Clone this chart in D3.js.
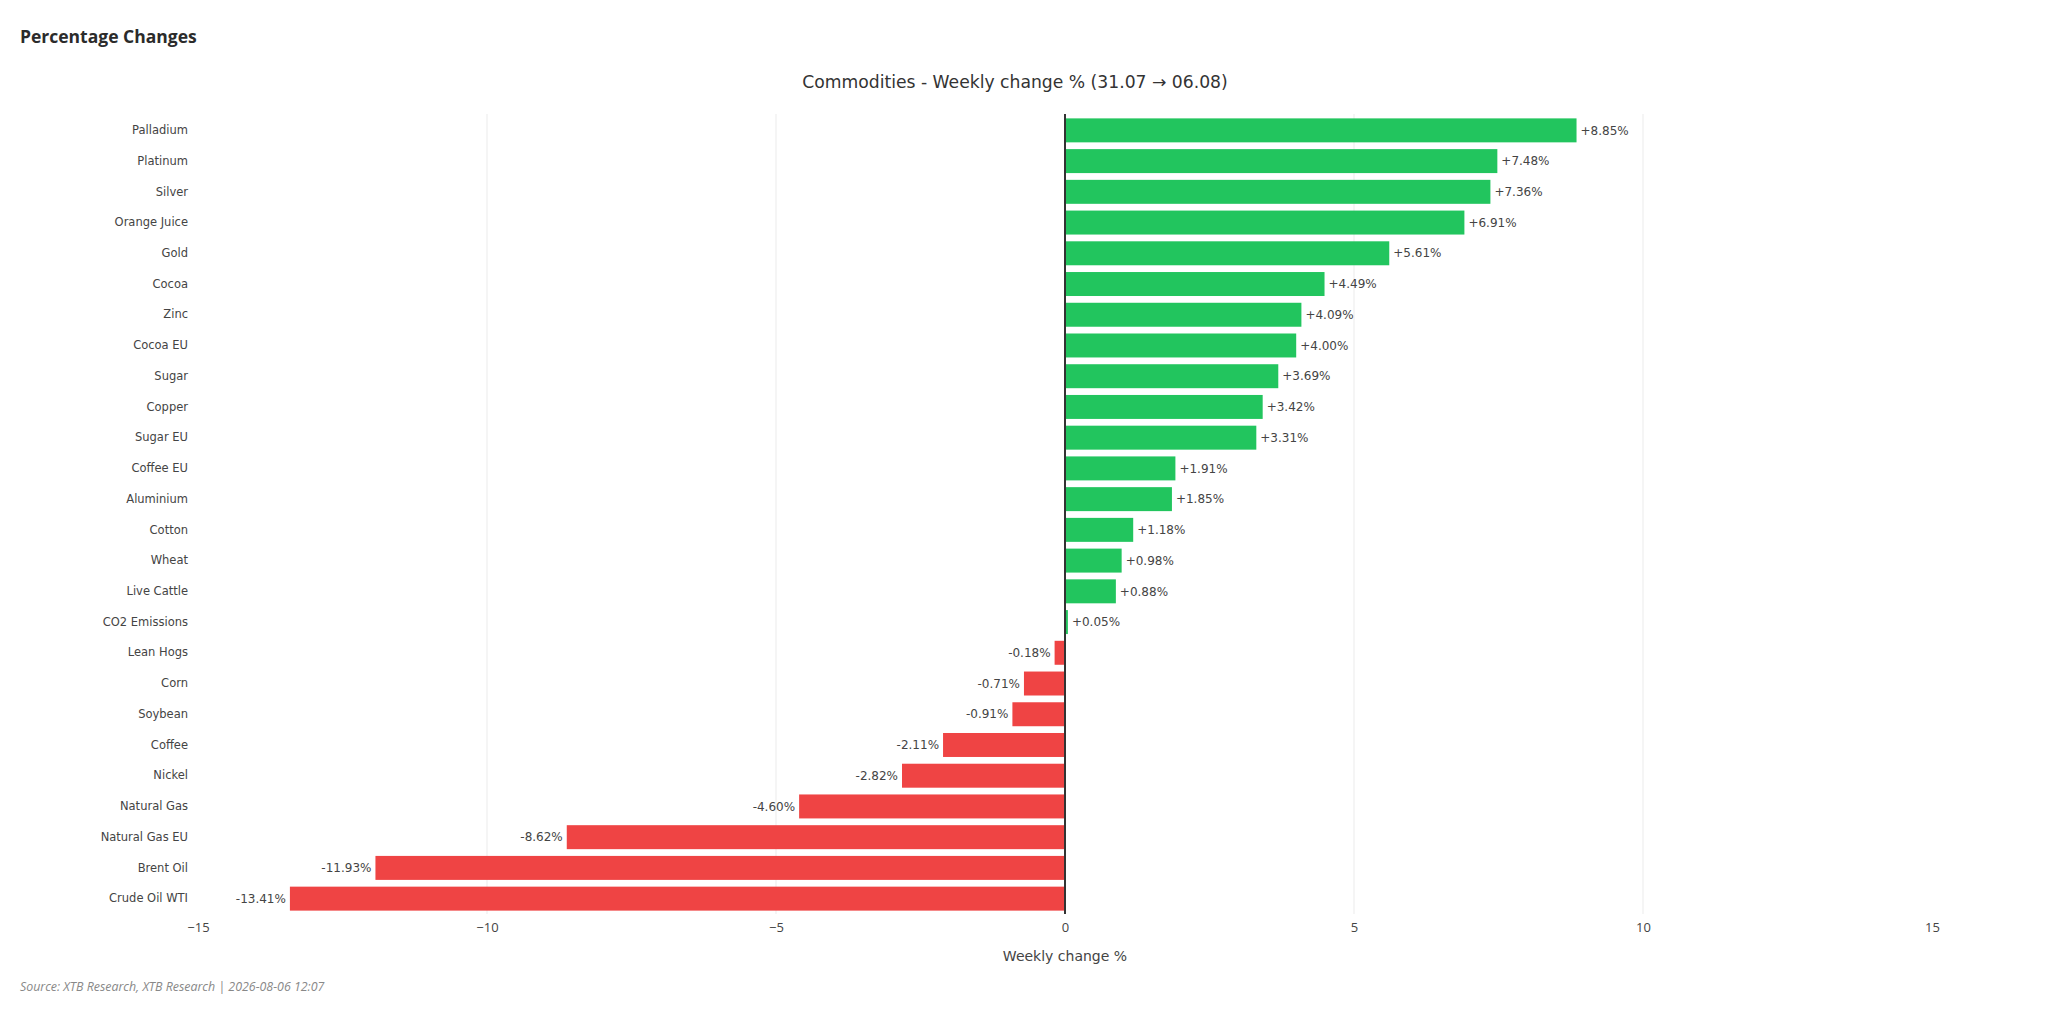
<!DOCTYPE html>
<html>
<head>
<meta charset="utf-8">
<script src="https://cdn.jsdelivr.net/npm/d3@7"></script>
<style>
    body { margin: 0; background: #fff; }
    svg { display: block; }
</style>
</head>
<body>
<div id="chart"></div>
<script>
// chart data
const commodities = ["Palladium", "Platinum", "Silver", "Orange Juice", "Gold", "Cocoa", "Zinc", "Cocoa EU",
    "Sugar", "Copper", "Sugar EU", "Coffee EU", "Aluminium", "Cotton", "Wheat", "Live Cattle", "CO2 Emissions",
    "Lean Hogs", "Corn", "Soybean", "Coffee", "Nickel", "Natural Gas", "Natural Gas EU", "Brent Oil", "Crude Oil WTI"];
const changes = [8.85, 7.48, 7.36, 6.91, 5.61, 4.49, 4.09, 4.00, 3.69, 3.42, 3.31, 1.91, 1.85, 1.18, 0.98, 0.88, 0.05,
    -0.18, -0.71, -0.91, -2.11, -2.82, -4.60, -8.62, -11.93, -13.41];
const xTicks = [-15, -10, -5, 0, 5, 10, 15];

const WIDTH = 2048, HEIGHT = 1015;
const plot = {left: 198, right: 1932, top: 114, bottom: 914};
const GREEN = "#22c55e", RED = "#ef4444";
const FONT = "'DejaVu Sans', Verdana, sans-serif";

let data = commodities.map((c, i) => ({name: c, value: changes[i]}));

let svg = d3.select("#chart")
    .append("svg")
    .attr("width", WIDTH)
    .attr("height", HEIGHT);

let x = d3.scaleLinear()
    .domain([-15, 15])
    .range([plot.left, plot.right]);

let y = d3.scaleBand()
    .domain(commodities)
    .range([plot.top + 1, plot.bottom])
    .paddingInner(0.22)
    .paddingOuter(0.11);

// gridlines (not at the edges or zero)
svg.append("g")
    .selectAll("line")
    .data(xTicks.filter(t => t !== 0 && Math.abs(t) !== 15))
    .enter()
    .append("line")
    .attr("x1", d => x(d)).attr("x2", d => x(d))
    .attr("y1", plot.top).attr("y2", plot.bottom)
    .attr("stroke", "#ebebeb")
    .attr("stroke-width", 1);

// bars
svg.append("g")
    .selectAll("rect")
    .data(data)
    .enter()
    .append("rect")
    .attr("x", d => x(Math.min(0, d.value)))
    .attr("y", d => y(d.name))
    .attr("width", d => Math.abs(x(d.value) - x(0)))
    .attr("height", y.bandwidth())
    .attr("fill", d => d.value >= 0 ? GREEN : RED);

// value labels
svg.append("g")
    .selectAll("text")
    .data(data)
    .enter()
    .append("text")
    .attr("x", d => d.value >= 0 ? x(d.value) + 4 : x(d.value) - 4)
    .attr("y", d => y(d.name) + y.bandwidth() / 2)
    .attr("dy", "0.35em")
    .style("text-anchor", d => d.value >= 0 ? "start" : "end")
    .style("font-family", FONT)
    .style("font-size", "12px")
    .style("fill", "#444")
    .text(d => (d.value >= 0 ? "+" : "") + d.value.toFixed(2) + "%");

// category labels
svg.append("g")
    .attr("transform", `translate(${plot.left - 10}, 0)`)
    .call(d3.axisLeft(y).tickSize(0).tickPadding(0))
    .call(g => g.select(".domain").remove())
    .selectAll("text")
    .style("font-family", FONT)
    .style("font-size", "11.5px")
    .style("fill", "#444");

// zero line
svg.append("line")
    .attr("x1", x(0)).attr("x2", x(0))
    .attr("y1", plot.top).attr("y2", plot.bottom)
    .attr("stroke", "#333")
    .attr("stroke-width", 2);

// x axis ticks
svg.append("g")
    .attr("transform", `translate(0, ${plot.bottom})`)
    .call(d3.axisBottom(x).tickValues(xTicks).tickSize(0).tickPadding(9))
    .call(g => g.select(".domain").remove())
    .selectAll("text")
    .style("font-family", "'Open Sans', sans-serif")
    .style("font-size", "13px")
    .style("fill", "#444");

// x axis title
svg.append("text")
    .attr("x", (plot.left + plot.right) / 2)
    .attr("y", 961)
    .style("text-anchor", "middle")
    .style("font-family", FONT)
    .style("font-size", "14px")
    .style("fill", "#444")
    .text("Weekly change %");

// chart title
svg.append("text")
    .attr("x", 1015)
    .attr("y", 88)
    .style("text-anchor", "middle")
    .style("font-family", FONT)
    .style("font-size", "17.2px")
    .style("fill", "#333")
    .text("Commodities - Weekly change % (31.07 \u2192 06.08)");

// page header
svg.append("text")
    .attr("x", 20)
    .attr("y", 43)
    .style("font-family", "'Open Sans', sans-serif")
    .style("font-weight", "bold")
    .style("font-size", "17.5px")
    .style("fill", "#2b2b2b")
    .text("Percentage Changes");

// source note
svg.append("text")
    .attr("x", 20)
    .attr("y", 991)
    .style("font-family", "'Open Sans', sans-serif")
    .style("font-style", "italic")
    .style("font-size", "12.4px")
    .style("fill", "#888")
    .text("Source: XTB Research, XTB Research | 2026-08-06 12:07");
</script>
</body>
</html>
